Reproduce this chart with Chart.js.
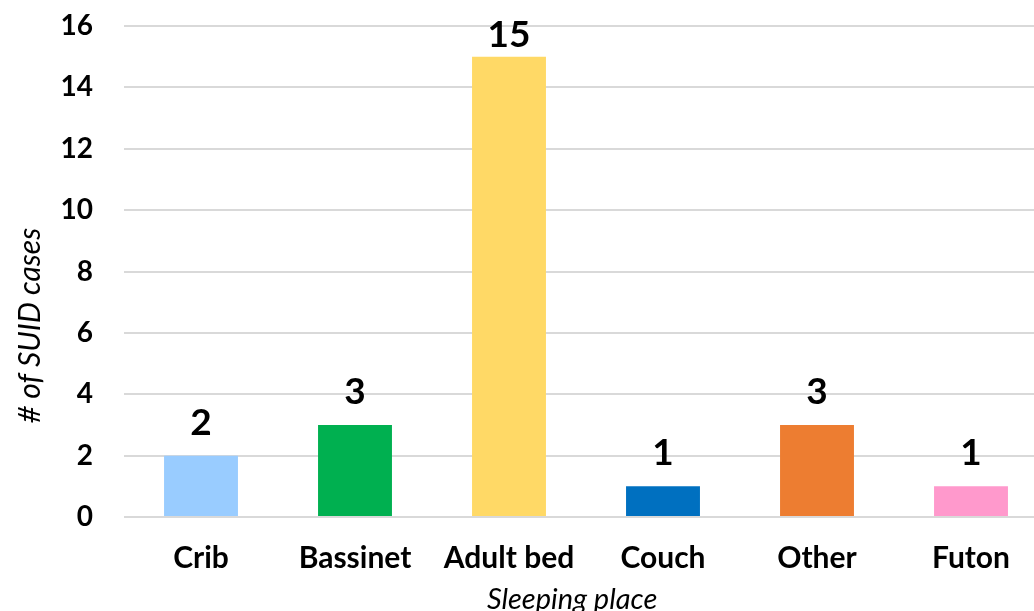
<!DOCTYPE html>
<html>
<head>
<meta charset="utf-8">
<script src="https://cdn.jsdelivr.net/npm/chart.js@4/dist/chart.umd.min.js"></script>
<style>
  html, body { margin: 0; padding: 0; background: #fff; overflow: hidden; }
  #wrap { width: 1034px; height: 611px; overflow: hidden; }
</style>
</head>
<body>
<div id="wrap"><canvas id="chart" width="1048" height="625"></canvas></div>
<script>
// Chart data
const categories = ['Crib', 'Bassinet', 'Adult bed', 'Couch', 'Other', 'Futon'];
const caseCounts = [2, 3, 15, 1, 3, 1];
const barColors = ['#99CCFF', '#00B050', '#FFD966', '#0070C0', '#ED7D31', '#FF99CC'];
const yTicks = [0, 2, 4, 6, 8, 10, 12, 14, 16];
const yTitle = '# of SUID cases';
const xTitle = 'Sleeping place';

const fontFamily = 'Lato, "Open Sans", sans-serif';

// Value labels above bars + axis titles placed like the original
const extras = {
    id: 'extras',
    afterDatasetsDraw(chart) {
        const ctx = chart.ctx;
        const area = chart.chartArea;
        const meta = chart.getDatasetMeta(0);
        ctx.save();
        ctx.font = 'bold 37px ' + fontFamily;
        ctx.fillStyle = '#000';
        ctx.textAlign = 'center';
        ctx.textBaseline = 'alphabetic';
        meta.data.forEach(function(bar, i) {
            // keep the label inside the plot area when the bar is tall
            const baseline = Math.max(bar.y - 21, area.top + 21);
            ctx.fillText(caseCounts[i], bar.x, baseline);
        });

        ctx.font = 'italic 29px ' + fontFamily;
        ctx.textBaseline = 'middle';
        // x title, slightly left of plot centre
        ctx.fillText(xTitle, area.left + (area.right - area.left) * 0.485, area.bottom + 83);
        // y title, rotated, below plot centre
        ctx.font = 'italic 30px ' + fontFamily;
        ctx.translate(30, area.top + (area.bottom - area.top) * 0.61);
        ctx.rotate(-Math.PI / 2);
        ctx.fillText(yTitle, 0, 0);
        ctx.restore();
    }
};

new Chart(document.getElementById('chart'), {
    type: 'bar',
    data: {
        labels: categories,
        datasets: [{
            data: caseCounts,
            backgroundColor: barColors,
            borderWidth: 0,
            barPercentage: 0.96,
            categoryPercentage: 0.5
        }]
    },
    options: {
        responsive: false,
        animation: false,
        layout: { padding: { top: 26, right: 0, left: 0, bottom: 0 } },
        plugins: {
            legend: { display: false },
            tooltip: { enabled: false }
        },
        scales: {
            x: {
                grid: { display: false, drawTicks: false },
                border: { display: false },
                ticks: {
                    color: '#000',
                    padding: 23,
                    font: { family: fontFamily, size: 30, weight: 'bold' }
                },
                afterFit: function(scale) { scale.height = 108; }
            },
            y: {
                min: 0,
                max: 16,
                afterBuildTicks: function(scale) {
                    scale.ticks = yTicks.map(v => ({ value: v }));
                },
                grid: { color: '#D9D9D9', lineWidth: 2, drawTicks: false },
                border: { display: false },
                ticks: {
                    color: '#000',
                    padding: 31,
                    font: { family: fontFamily, size: 28, weight: 'bold' }
                },
                afterFit: function(scale) {
                    scale.width = 124;
                    scale.paddingTop = 0;
                    scale.paddingBottom = 0;
                }
            }
        }
    },
    plugins: [extras]
});
</script>
</body>
</html>
